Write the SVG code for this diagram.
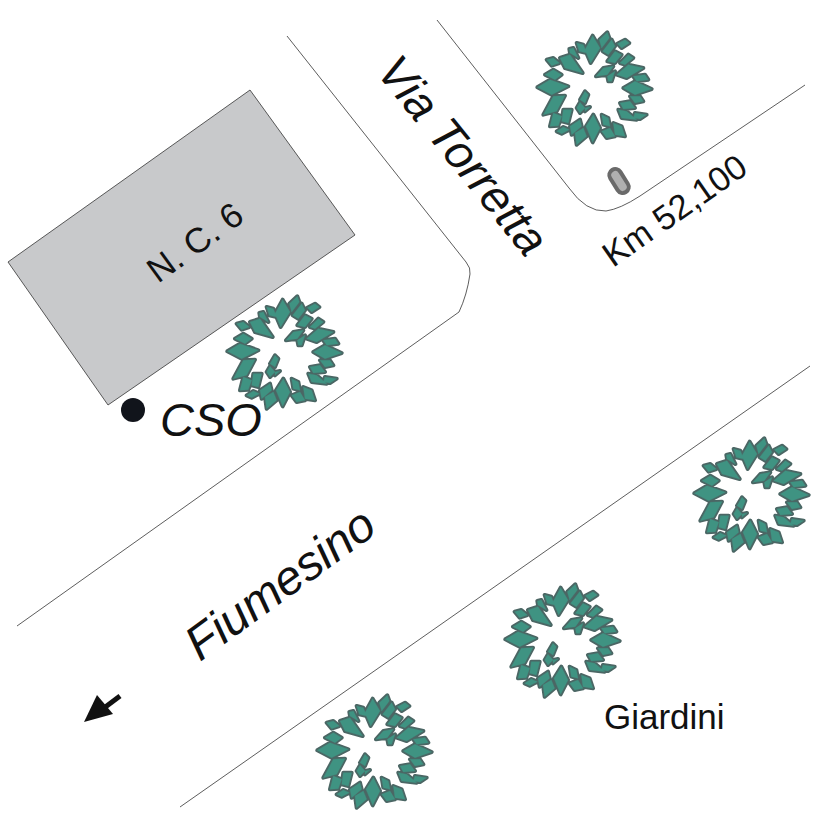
<svg xmlns="http://www.w3.org/2000/svg" width="827" height="827" viewBox="0 0 827 827">
<style>
.road{fill:none;stroke:#333;stroke-width:.8}
.t{font-family:"Liberation Sans",Arial,sans-serif;fill:#111}
.leafo{fill:#4b6664;stroke:#4b6664;stroke-width:12;stroke-linejoin:round}
.leaf{fill:#3f9382;stroke:#3f9382;stroke-width:1;stroke-linejoin:round}
</style>
<defs>
<path id="leaves" d="M262 38L268 55L245 85L238 60Z M170 70L190 75L200 100L178 95Z M160 85L175 115L150 100L148 88Z M218 48L240 85L212 130L195 90Z M120 115L150 105L188 160L135 145Z M80 120L100 115L118 130L95 138Z M100 150L125 165L105 180L75 165Z M52 203L90 180L145 200L95 225Z M100 230L135 228L110 275L70 285Z M90 320L100 280L125 290L115 318Z M130 270L155 270L145 310L125 305Z M110 335L130 322L148 330L125 342Z M150 320L180 300L185 320L155 345Z M170 375L165 340L190 325L200 350Z M218 368L198 320L220 285L240 325Z M245 285L265 295L270 320L250 315Z M245 335L270 325L285 350L260 355Z M280 310L305 320L315 350L285 345Z M295 270L320 275L350 300L305 295Z M345 280L380 285L360 298L340 295Z M300 250L330 245L345 265L310 268Z M330 230L360 230L370 245L345 250Z M310 205L345 185L395 208L345 225Z M340 170L375 165L385 180L350 185Z M290 165L325 135L370 145L320 175Z M228 170L250 145L280 140L262 165Z M262 170L285 155L275 185L265 185Z M300 130L325 105L340 115L315 135Z M262 125L285 95L305 105L285 130Z M248 95L275 60L285 80L265 105Z M292 72L315 60L328 70L305 85Z M180 240L195 215L205 225L195 250Z M170 265L180 248L195 265L180 280Z M195 265L210 262L195 275Z"/>
<g id="tree" transform="scale(.3333) translate(-222,-205)">
<use href="#leaves" class="leafo"/><use href="#leaves" class="leaf"/>
</g>
</defs>
<rect width="827" height="827" fill="#fff"/>
<g id="connectors">
<path class="road" d="M287 36L466 262Q471 268 470 274Q467 295 459 312L17 626"/>
<path class="road" d="M437 20L569 188Q586 212 606 211Q620 209 640 196L805 85"/>
<path class="road" d="M180 807L810 366"/>
</g>
<g id="building"><path d="M8 262L250 90L355 235L108 405Z" fill="#c8c9cb" stroke="#333" stroke-width=".8"/>
<text class="t" font-size="35" transform="translate(158 284) rotate(-36)">N. C. 6</text></g>
<g id="tree1"><use href="#tree" x="594" y="88"/></g>
<g id="tree2"><use href="#tree" x="284" y="352"/></g>
<g id="tree3"><use href="#tree" x="751" y="494"/></g>
<g id="tree4"><use href="#tree" x="562" y="640"/></g>
<g id="tree5"><use href="#tree" x="374" y="751"/></g>
<g id="cso"><circle cx="133" cy="410" r="12" fill="#11141b"/>
<text class="t" font-size="47" font-style="italic" x="160" y="436">CSO</text></g>
<g id="marker"><rect x="-6" y="-13" width="12" height="26" rx="6" transform="translate(619 181) rotate(-32)" fill="#b0b0b0" stroke="#6a6a6a" stroke-width="4"/></g>
<g id="labels">
<text class="t" font-size="47" font-style="italic" transform="translate(375 72) rotate(51)">Via Torretta</text>
<text class="t" font-size="34.5" transform="translate(613 268) rotate(-35)">Km 52,100</text>
<text class="t" font-size="48" font-style="italic" transform="translate(200 662) rotate(-36)">Fiumesino</text>
<text class="t" font-size="35" x="604" y="729">Giardini</text>
</g>
<g id="arrow"><path d="M120 696L104 708" stroke="#111" stroke-width="5" fill="none"/><path d="M84 722L97 695L113 714Z" fill="#111"/></g>
</svg>
